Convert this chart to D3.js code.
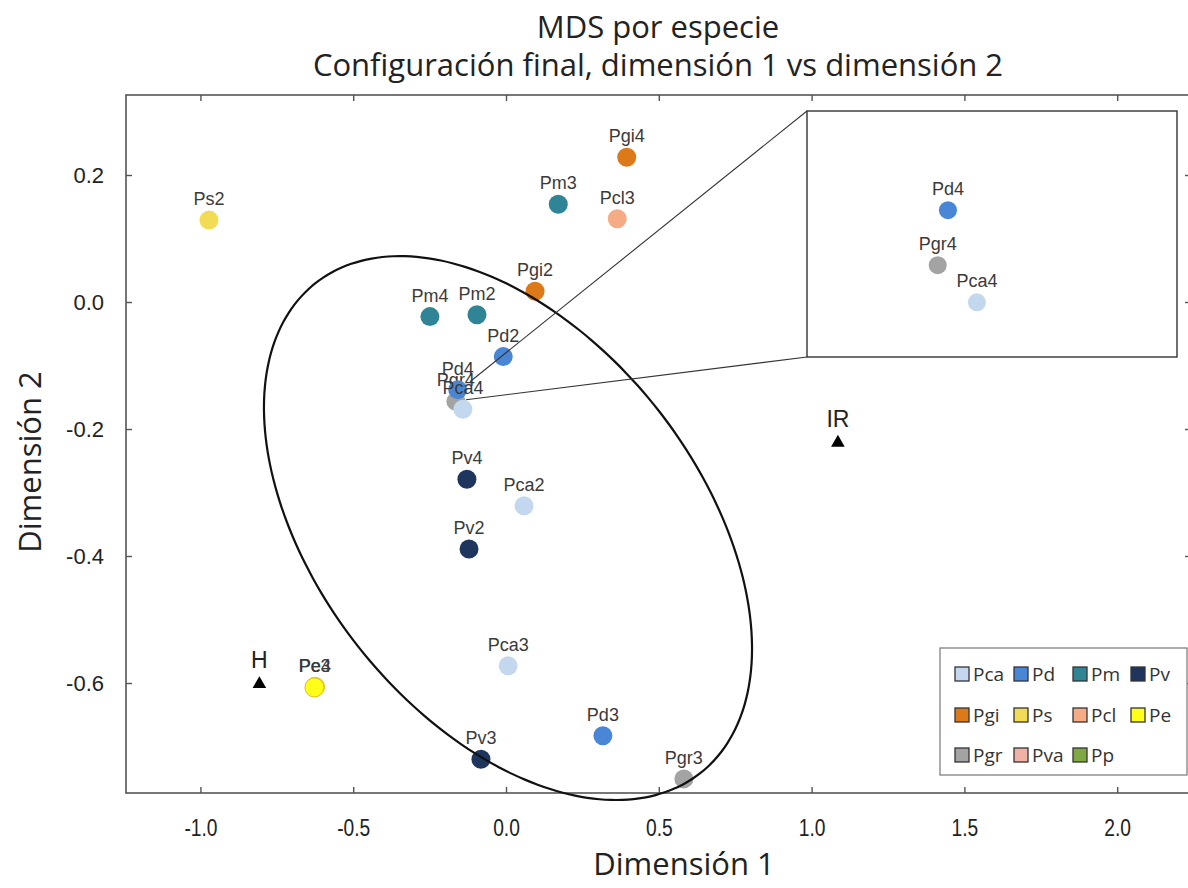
<!DOCTYPE html>
<html>
<head>
<meta charset="utf-8">
<script src="https://cdn.jsdelivr.net/npm/d3@7/dist/d3.min.js"></script>
<style>
  html, body { margin: 0; padding: 0; background: #fff; }
  svg { display: block; }
</style>
</head>
<body>
<svg id="chart" width="1188" height="888"></svg>
<script>
// ---- Data: MDS configuration (dimension 1, dimension 2) ----
const sampleNames = ["Ps2", "Pgi4", "Pm3", "Pcl3", "Pgi2", "Pm4", "Pm2", "Pd2",
  "Pgr4", "Pd4", "Pca4", "Pv4", "Pca2", "Pv2", "Pca3", "Pd3", "Pv3", "Pgr3", "Pe4", "Pe3"];
const dim1 = [-0.972, 0.395, 0.171, 0.364, 0.095, -0.249, -0.095, -0.009,
  -0.164, -0.158, -0.141, -0.128, 0.059, -0.121, 0.007, 0.317, -0.082, 0.582, -0.625, -0.627];
const dim2 = [0.129, 0.228, 0.154, 0.131, 0.017, -0.023, -0.020, -0.086,
  -0.1565, -0.138, -0.169, -0.279, -0.321, -0.389, -0.573, -0.683, -0.720, -0.751, -0.606, -0.607];

// Reference samples drawn as triangles
const refNames = ["H", "IR"];
const refDim1 = [-0.807, 1.086];
const refDim2 = [-0.600, -0.220];

// Species legend
const speciesKeys = ["Pca", "Pd", "Pm", "Pv", "Pgi", "Ps", "Pcl", "Pe", "Pgr", "Pva", "Pp"];
const speciesColors = ["#c3d7ef", "#4a86d6", "#2f8496", "#1e365e", "#dc7a1a", "#f3dc55",
  "#f5ab84", "#ffff1a", "#a3a3a3", "#f0b2a4", "#7fa843"];

// Axes
const xDomain = [-1.2435, 2.2415];
const yDomain = [-0.7732, 0.326];
const xTicks = [-1.0, -0.5, 0.0, 0.5, 1.0, 1.5, 2.0];
const yTicks = [-0.6, -0.4, -0.2, 0.0, 0.2];

// Zoomed view of the central cluster
const insetNames = ["Pd4", "Pgr4", "Pca4"];
const insetXDomain = [-0.2407, -0.0236];
const insetYDomain = [-0.1874, -0.1046];
const zoomAnchorDim1 = [-0.118, -0.131];
const zoomAnchorDim2 = [-0.1255, -0.154];

// Ellipse around the main group: centre and two semi-axis vectors
const ellipseCenter = [0.0065, -0.356];
const ellipseAxisA = [0.629, -0.386];
const ellipseAxisB = [-0.492, -0.1855];

const titleLines = ["MDS por especie", "Configuración final, dimensión 1 vs dimensión 2"];

// ---- Layout ----
const plot = { left: 126, right: 1191, top: 95, bottom: 793 };
const svg = d3.select("#chart");
const x = d3.scaleLinear().domain(xDomain).range([plot.left, plot.right]);
const y = d3.scaleLinear().domain(yDomain).range([plot.bottom, plot.top]);
const color = d3.scaleOrdinal().domain(speciesKeys).range(speciesColors);
const speciesOf = n => n.replace(/\d+$/, "");
const fmt = d => d.toFixed(1);

const points = sampleNames.map((n, i) => ({ name: n, sp: speciesOf(n), d1: dim1[i], d2: dim2[i] }));

// Titles
svg.append("g").selectAll("text").data(titleLines).join("text")
  .attr("x", 658).attr("y", (d, i) => 38 + i * 38)
  .attr("text-anchor", "middle")
  .attr("font-family", "Open Sans, sans-serif")
  .attr("font-size", 31).attr("fill", "#222")
  .text(d => d);

// Frame
svg.append("rect")
  .attr("x", plot.left).attr("y", plot.top)
  .attr("width", plot.right - plot.left).attr("height", plot.bottom - plot.top)
  .attr("fill", "none").attr("stroke", "#555").attr("stroke-width", 1.6);

// Axes with inward ticks on all four sides
const tickStyle = g => {
  g.select(".domain").remove();
  g.selectAll(".tick line").attr("stroke", "#555").attr("stroke-width", 1.4);
};
const xAxisB = svg.append("g").attr("transform", `translate(0,${plot.bottom})`)
  .call(d3.axisBottom(x).tickValues(xTicks).tickFormat(fmt).tickSizeInner(-6).tickPadding(26))
  .call(tickStyle);
xAxisB.selectAll(".tick text")
  .attr("font-family", "Liberation Sans, Arial, sans-serif")
  .attr("font-size", 24).attr("fill", "#222")
  .attr("transform", "scale(0.8,1)");
svg.append("g").attr("transform", `translate(0,${plot.top})`)
  .call(d3.axisTop(x).tickValues(xTicks).tickFormat("").tickSizeInner(-6))
  .call(tickStyle);
const yAxisL = svg.append("g").attr("transform", `translate(${plot.left},0)`)
  .call(d3.axisLeft(y).tickValues(yTicks).tickFormat(fmt).tickSizeInner(-6).tickPadding(22))
  .call(tickStyle);
yAxisL.selectAll(".tick text")
  .attr("font-family", "Liberation Sans, Arial, sans-serif")
  .attr("font-size", 22).attr("fill", "#222");
svg.append("g").attr("transform", `translate(${plot.right},0)`)
  .call(d3.axisRight(y).tickValues(yTicks).tickFormat("").tickSizeInner(-6))
  .call(tickStyle);

// Axis titles
svg.append("text")
  .attr("x", 684).attr("y", 875).attr("text-anchor", "middle")
  .attr("font-family", "Open Sans, sans-serif").attr("font-size", 31).attr("fill", "#222")
  .text("Dimensión 1");
svg.append("text")
  .attr("transform", "translate(41,462) rotate(-90)").attr("text-anchor", "middle")
  .attr("font-family", "Open Sans, sans-serif").attr("font-size", 31).attr("fill", "#222")
  .text("Dimensión 2");

// Sample points with labels
const R = 9.5;
const pg = svg.append("g").selectAll("g").data(points).join("g");
pg.append("circle")
  .attr("cx", d => x(d.d1)).attr("cy", d => y(d.d2)).attr("r", R)
  .attr("fill", d => color(d.sp))
  .attr("stroke", d => d.sp === "Pe" ? "#e0c020" : "none").attr("stroke-width", 1);
pg.append("text")
  .attr("x", d => x(d.d1)).attr("y", d => y(d.d2) - 15)
  .attr("text-anchor", "middle")
  .attr("font-family", "Liberation Sans, Arial, sans-serif")
  .attr("font-size", 18).attr("fill", "#3a3a3a")
  .text(d => d.name);

// Reference samples (triangles)
const refs = refNames.map((n, i) => ({ name: n, d1: refDim1[i], d2: refDim2[i] }));
const tri = d3.symbol().type(d3.symbolTriangle).size(80);
const rg = svg.append("g").selectAll("g").data(refs).join("g");
rg.append("path").attr("d", tri)
  .attr("transform", d => `translate(${x(d.d1)},${y(d.d2) + 1})`).attr("fill", "#000");
rg.append("text")
  .attr("x", d => x(d.d1)).attr("y", d => y(d.d2) - 15)
  .attr("text-anchor", "middle")
  .attr("font-family", "Liberation Sans, Arial, sans-serif")
  .attr("font-size", 23).attr("fill", "#222")
  .text(d => d.name);

// Ellipse around the group
const tSteps = d3.range(0, 360, 3).map(a => a * Math.PI / 180);
const ellipsePts = tSteps.map(t => [
  x(ellipseCenter[0] + Math.cos(t) * ellipseAxisA[0] + Math.sin(t) * ellipseAxisB[0]),
  y(ellipseCenter[1] + Math.cos(t) * ellipseAxisA[1] + Math.sin(t) * ellipseAxisB[1])
]);
svg.append("path")
  .attr("d", d3.line().curve(d3.curveCardinalClosed)(ellipsePts))
  .attr("fill", "none").attr("stroke", "#111").attr("stroke-width", 2.2);

// Inset: zoom on the overlapping cluster
const inset = { left: 807, top: 111, right: 1177, bottom: 357 };
const ix = d3.scaleLinear().domain(insetXDomain).range([inset.left, inset.right]);
const iy = d3.scaleLinear().domain(insetYDomain).range([inset.bottom, inset.top]);
svg.append("g").selectAll("line").data(zoomAnchorDim1).join("line")
  .attr("x1", (d, i) => x(d)).attr("y1", (d, i) => y(zoomAnchorDim2[i]))
  .attr("x2", inset.left).attr("y2", (d, i) => i === 0 ? inset.top : inset.bottom)
  .attr("stroke", "#333").attr("stroke-width", 1.1);
svg.append("rect")
  .attr("x", inset.left).attr("y", inset.top)
  .attr("width", inset.right - inset.left).attr("height", inset.bottom - inset.top)
  .attr("fill", "#fff").attr("stroke", "#333").attr("stroke-width", 1.4);
const insetPts = points.filter(p => insetNames.includes(p.name));
const ig = svg.append("g").selectAll("g").data(insetPts).join("g");
ig.append("circle")
  .attr("cx", d => ix(d.d1)).attr("cy", d => iy(d.d2)).attr("r", 9)
  .attr("fill", d => color(d.sp));
ig.append("text")
  .attr("x", d => ix(d.d1)).attr("y", d => iy(d.d2) - 15)
  .attr("text-anchor", "middle")
  .attr("font-family", "Liberation Sans, Arial, sans-serif")
  .attr("font-size", 18).attr("fill", "#3a3a3a")
  .text(d => d.name);

// Legend
const legend = { left: 940, top: 648, right: 1187, bottom: 775 };
svg.append("rect")
  .attr("x", legend.left).attr("y", legend.top)
  .attr("width", legend.right - legend.left).attr("height", legend.bottom - legend.top)
  .attr("fill", "#fff").attr("stroke", "#777").attr("stroke-width", 1.2);
const colX = [955, 1014, 1073, 1131];
const rowY = [674, 715, 755];
const lg = svg.append("g").selectAll("g").data(speciesKeys).join("g")
  .attr("transform", (d, i) => `translate(${colX[i % 4]},${rowY[Math.floor(i / 4)]})`);
lg.append("rect").attr("x", 0).attr("y", -7).attr("width", 14).attr("height", 14)
  .attr("fill", d => color(d)).attr("stroke", "#333").attr("stroke-width", 1.3);
lg.append("text").attr("x", 18).attr("y", 7)
  .attr("font-family", "Open Sans, sans-serif").attr("font-size", 19).attr("fill", "#333")
  .text(d => d);
</script>
</body>
</html>
